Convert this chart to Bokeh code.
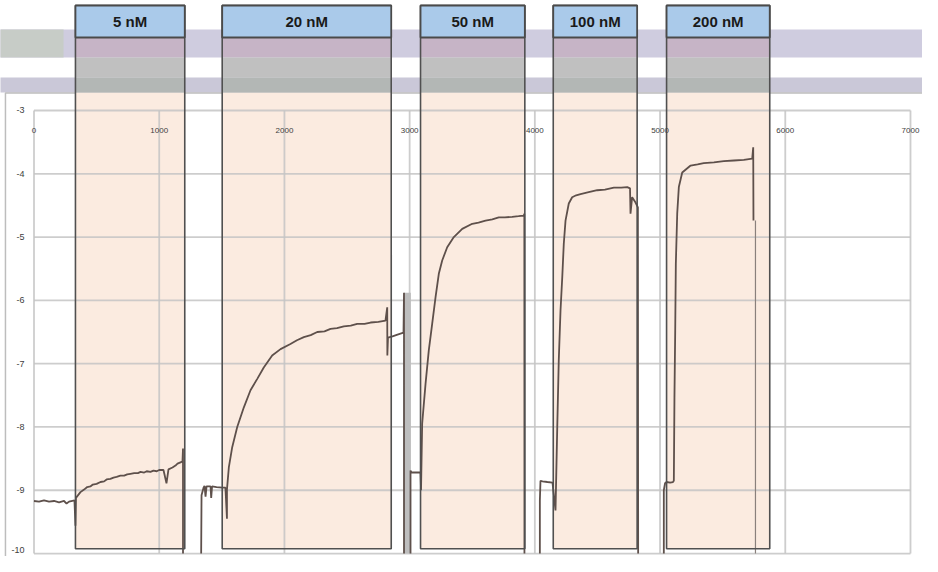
from bokeh.plotting import figure
from bokeh.models import Range1d
from bokeh.core.properties import value
from bokeh.embed import file_html
from bokeh.resources import INLINE

# ---------------- data ----------------
conc_labels = ["5 nM", "20 nM", "50 nM", "100 nM", "200 nM"]
inj_start = [331, 1503, 3087, 4147, 5052]
inj_end = [1204, 2853, 3920, 4817, 5876]

x_ticks = [0, 1000, 2000, 3000, 4000, 5000, 6000, 7000]
x_tick_labels = ["0", "1000", "2000", "3000", "4000", "5000", "6000", "7000"]
y_ticks = [-3, -4, -5, -6, -7, -8, -9, -10]
y_tick_labels = ["-3", "-4", "-5", "-6", "-7", "-8", "-9", "-10"]

# sensorgram segments (time s, response)
t1 = [0, 40, 80, 120, 160, 200, 240, 260, 280, 323, 331, 335, 371, 400, 425, 450, 470, 500, 531, 560,
      580, 610, 635, 660, 690, 720, 744, 770, 800, 830, 851, 880, 900, 930, 954, 980, 1000, 1034,
      1058, 1074, 1106, 1130, 1146, 1170, 1186, 1190, 1190]
r1 = [-9.17, -9.18, -9.16, -9.18, -9.17, -9.19, -9.17, -9.21, -9.18, -9.16, -9.56, -9.12, -9.03, -8.99,
      -8.95, -8.94, -8.91, -8.90, -8.87, -8.86, -8.83, -8.82, -8.80, -8.79, -8.77, -8.77, -8.75, -8.74,
      -8.73, -8.73, -8.71, -8.72, -8.70, -8.71, -8.69, -8.70, -8.68, -8.68, -8.89, -8.67, -8.64,
      -8.61, -8.58, -8.56, -8.54, -8.34, -10.0]

t2 = [1335, 1338, 1354, 1362, 1370, 1378, 1410, 1415, 1422, 1458, 1505, 1529, 1541, 1541, 1556, 1583,
      1623, 1676, 1729, 1783, 1835, 1902, 1969, 2048, 2100, 2155, 2210, 2262, 2320, 2368, 2420, 2474,
      2530, 2581, 2640, 2688, 2750, 2807, 2821, 2822, 2827, 2863, 2903, 2951, 2955, 2955]
r2 = [-10.0, -9.08, -8.96, -8.93, -9.10, -8.94, -8.94, -9.12, -8.94, -8.95, -8.96, -8.96, -9.45, -8.99,
      -8.64, -8.32, -8.00, -7.69, -7.42, -7.24, -7.06, -6.87, -6.77, -6.69, -6.63, -6.58, -6.55, -6.50,
      -6.49, -6.45, -6.44, -6.41, -6.40, -6.37, -6.37, -6.35, -6.34, -6.32, -6.11, -6.87, -6.59, -6.57,
      -6.54, -6.51, -5.88, -10.0]

t3 = [3007, 3007, 3015, 3087, 3091, 3100, 3127, 3153, 3180, 3207, 3233, 3260, 3300, 3353, 3420, 3500,
      3550, 3606, 3660, 3712, 3760, 3819, 3870, 3912, 3916, 3917]
r3 = [-10.0, -8.69, -8.72, -8.72, -9.00, -7.95, -7.32, -6.79, -6.37, -5.95, -5.58, -5.37, -5.16, -5.00,
      -4.87, -4.79, -4.77, -4.74, -4.72, -4.69, -4.69, -4.68, -4.67, -4.66, -4.63, -10.0]

t4 = [4040, 4040, 4045, 4061, 4100, 4141, 4165, 4179, 4191, 4205, 4219, 4231, 4245, 4271, 4298, 4330,
      4365, 4430, 4498, 4560, 4631, 4690, 4738, 4760, 4764, 4777, 4803, 4823, 4825]
r4 = [-10.0, -9.16, -8.85, -8.86, -8.87, -8.88, -9.32, -8.00, -6.95, -6.16, -5.63, -5.11, -4.74, -4.47,
      -4.37, -4.34, -4.32, -4.29, -4.26, -4.25, -4.22, -4.22, -4.21, -4.23, -4.63, -4.37, -4.45, -4.53,
      -10.0]

t5 = [5030, 5030, 5040, 5052, 5080, 5103, 5110, 5115, 5121, 5126, 5137, 5150, 5177, 5244, 5300, 5349,
      5430, 5509, 5590, 5669, 5736, 5744, 5746]
r5 = [-10.0, -9.00, -8.89, -8.87, -8.88, -8.87, -8.85, -7.53, -6.48, -5.42, -4.63, -4.21, -3.98, -3.87,
      -3.85, -3.83, -3.82, -3.80, -3.79, -3.78, -3.76, -3.58, -4.74]

tail_t = [5762, 5762]
tail_r = [-4.74, -10.0]

# ---------------- figure ----------------
p = figure(width=922, height=556, x_range=Range1d(-267.6, 7096), y_range=Range1d(-10.047, -1.262),
           output_backend="svg", toolbar_location=None, x_axis_location=None, y_axis_location=None,
           min_border=0)
p.outline_line_color = None
p.grid.visible = False
p.background_fill_color = "white"
p.border_fill_color = "white"

# header bands
p.quad(left=[-400], right=[7400], top=[-1.720], bottom=[-2.163], fill_color="#CFCCDF", line_color=None)
p.quad(left=[-400], right=[236], top=[-1.720], bottom=[-2.163], fill_color="#C7CCC7", line_color=None)
p.quad(left=[-400], right=[7400], top=[-2.479], bottom=[-2.716], fill_color="#CAC8D8", line_color=None)

# outer frame
p.quad(left=[-228], right=[7152], top=[-2.724], bottom=[-10.25], fill_color="white",
       line_color="#BDBDBD", line_width=1.5)

# injection regions
p.quad(left=inj_start, right=inj_end, top=-2.716, bottom=-9.925, fill_color="#FBEBE0", line_color=None)

# grid
p.segment(x0=x_ticks, y0=-3, x1=x_ticks, y1=-10, line_color="#C4C4C4", line_width=1.8, line_alpha=0.85)
p.segment(x0=0, y0=y_ticks, x1=7000, y1=y_ticks, line_color="#C4C4C4", line_width=1.8, line_alpha=0.85)

# header grey parts inside columns
p.quad(left=inj_start, right=inj_end, top=-1.847, bottom=-2.163, fill_color="#C6B4C6", line_color=None)
p.quad(left=inj_start, right=inj_end, top=-2.163, bottom=-2.479, fill_color="#C0C0C0", line_color=None)
p.quad(left=inj_start, right=inj_end, top=-2.479, bottom=-2.716, fill_color="#B3B7B5", line_color=None)

# grey bar near 3000
p.quad(left=[2955], right=[3010], top=[-5.88], bottom=[-10.0], fill_color="#BEBEBE", line_color=None)

# trace
trace_color = "#5E504B"
for tt, rr in [(t1, r1), (t2, r2), (t3, r3), (t4, r4), (t5, r5)]:
    p.line(tt, rr, line_color=trace_color, line_width=1.8)
p.line(tail_t, tail_r, line_color="#8A807C", line_width=1.2)

# column outlines
p.quad(left=inj_start, right=inj_end, top=-1.341, bottom=-9.925, fill_color=None,
       line_color="#505050", line_width=1.6)
# blue headers
p.quad(left=inj_start, right=inj_end, top=-1.341, bottom=-1.847, fill_color="#AACAEA",
       line_color="#4A4A4A", line_width=1.8)

mid = [(a + b) / 2 for a, b in zip(inj_start, inj_end)]
p.text(x=mid, y=[-1.594] * len(mid), text=conc_labels, text_font=value("Liberation Sans"),
       text_font_size="15px", text_font_style="bold", text_align="center", text_baseline="middle",
       text_color="#1A1A1A")

# tick labels
p.text(x=x_ticks, y=[-3.316] * len(x_ticks), text=x_tick_labels, text_font=value("Liberation Sans"),
       text_font_size="8px", text_align="center", text_baseline="middle", text_color="#404040")
y_label_shift = [0, 0, 0, 0, 0, 0, 0, -4]
p.text(x=[-76] * len(y_ticks), y=y_ticks, text=y_tick_labels, y_offset=y_label_shift,
       text_font=value("Liberation Sans"), text_font_size="9px", text_align="right",
       text_baseline="middle", text_color="#404040")

open("out.html", "w").write(file_html(p, INLINE))
